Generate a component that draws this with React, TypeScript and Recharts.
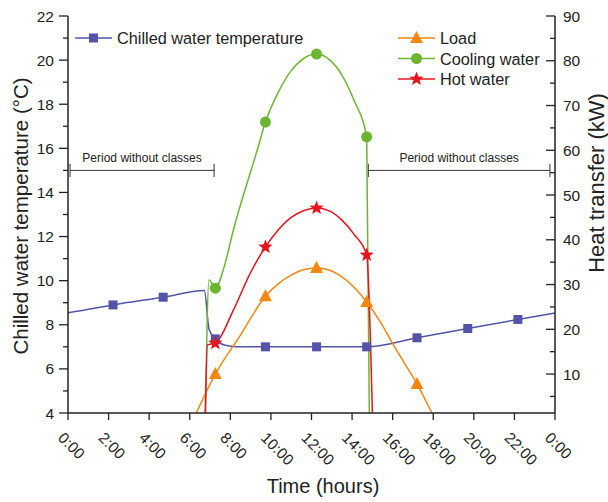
import React from 'react';
import { LineChart, Line, XAxis, YAxis, ReferenceLine, Legend } from 'recharts';

// hours of the day, shown as h:00 labels
const hourTicks = [0, 2, 4, 6, 8, 10, 12, 14, 16, 18, 20, 22, 24];
const tempTicks = [4, 5, 6, 7, 8, 9, 10, 11, 12, 13, 14, 15, 16, 17, 18, 19, 20, 21, 22];
const heatTicks = [5, 10, 15, 20, 25, 30, 35, 40, 45, 50, 55, 60, 65, 70, 75, 80, 85, 90];

// hours that carry a symbol on each curve
const markerHours = [2.22, 4.69, 7.26, 9.73, 12.25, 14.72, 17.2, 19.7, 22.17];

const chilledHours = [0, 2.22, 4.69, 6.72, 6.95, 7.26, 7.7, 8.3, 9.73, 12.25, 14.72, 17.2, 19.7, 22.17, 24];
const chilledTemp = [8.54, 8.9, 9.25, 9.55, 7.8, 7.36, 7.08, 7.0, 7.0, 7.0, 7.0, 7.41, 7.83, 8.24, 8.54];

const loadHours = [6.32, 7.26, 8.5, 9.73, 10.4, 11, 11.6, 12.25, 12.9, 13.5, 14.1, 14.72, 15.4, 16, 16.6, 17.2, 17.93];
const loadKw = [1.3, 10.0, 18.7, 27.4, 30.3, 32.1, 33.3, 33.7, 33.2, 31.7, 29.4, 26.1, 21.6, 16.8, 12.3, 7.8, 1.3];

const coolingHours = [6.77, 6.95, 7.26, 7.7, 8.15, 9.33, 9.73, 10.4, 11, 11.6, 12.25, 12.9, 13.5, 14.1, 14.72, 14.85];
const coolingKw = [1.3, 31.0, 29.2, 34.0, 42.2, 60.1, 66.3, 73.3, 77.8, 80.5, 81.5, 80.2, 76.8, 71.1, 63.0, 1.3];

const hotHours = [6.77, 6.87, 7.26, 8.15, 8.99, 9.73, 10.4, 11, 11.6, 12.25, 12.9, 13.5, 14.1, 14.72, 15.0];
const hotKw = [1.3, 16.5, 16.9, 24.3, 32.6, 38.4, 42.4, 45.0, 46.5, 47.1, 46.4, 44.4, 41.2, 36.6, 1.3];

const PURPLE = '#5353a8';
const ORANGE = '#f5860f';
const GREEN = '#6bb530';
const RED = '#e6141e';
const AXIS = '#222';
const FONT = '"Liberation Sans", Arial, sans-serif';

const toPoints = (hours: number[], values: number[]) => hours.map((h, i) => ({ h, v: values[i] }));

function Marker({ kind, cx, cy, color }: { kind: string; cx: number; cy: number; color: string }) {
  if (kind === 'square') return <rect x={cx - 4.5} y={cy - 4.5} width={9} height={9} fill={color} />;
  if (kind === 'circle') return <circle cx={cx} cy={cy} r={5.5} fill={color} />;
  if (kind === 'triangle')
    return <polygon points={`${cx},${cy - 7} ${cx - 6.5},${cy + 5} ${cx + 6.5},${cy + 5}`} fill={color} />;
  // star
  const pts: string[] = [];
  for (let i = 0; i < 10; i++) {
    const r = i % 2 === 0 ? 7.5 : 3.2;
    const a = -Math.PI / 2 + (i * Math.PI) / 5;
    pts.push(`${cx + r * Math.cos(a)},${cy + r * Math.sin(a)}`);
  }
  return <polygon points={pts.join(' ')} fill={color} />;
}

const markerDot = (kind: string, color: string) => (p: any) => {
  const key = `dot-${kind}-${p.index}`;
  if (!markerHours.includes(p.payload.h)) return <g key={key} />;
  return (
    <g key={key}>
      <Marker kind={kind} cx={p.cx} cy={p.cy} color={color} />
    </g>
  );
};

const BottomTick = (p: any) => {
  const { x, y, payload } = p;
  const h = payload.value;
  return (
    <g>
      <line x1={x} y1={y} x2={x} y2={y + 7} stroke={AXIS} strokeWidth={1.3} />
      <text
        x={x + 10.5}
        y={y + 26}
        transform={`rotate(45 ${x} ${y})`}
        fontSize={15.5}
        fontFamily={FONT}
        fill="#222"
      >
        {`${h % 24}:00`}
      </text>
    </g>
  );
};

const TopTick = (p: any) => (
  <line x1={p.x} y1={p.y} x2={p.x} y2={p.y + 5} stroke={AXIS} strokeWidth={1.3} />
);

const LeftTick = (p: any) => {
  const { x, y, payload } = p;
  const major = payload.value % 2 === 0;
  return (
    <g>
      <line x1={x - (major ? 9 : 5)} y1={y} x2={x} y2={y} stroke={AXIS} strokeWidth={1.3} />
      {major && (
        <text x={x - 14} y={y + 5.5} textAnchor="end" fontSize={15.5} fontFamily={FONT} fill="#222">
          {payload.value}
        </text>
      )}
    </g>
  );
};

const RightTick = (p: any) => {
  const { x, y, payload } = p;
  const major = payload.value % 10 === 0;
  return (
    <g>
      <line x1={x - (major ? 9 : 5)} y1={y} x2={x} y2={y} stroke={AXIS} strokeWidth={1.3} />
      {major && (
        <text x={x + 8} y={y + 5.5} textAnchor="start" fontSize={15.5} fontFamily={FONT} fill="#222">
          {payload.value}
        </text>
      )}
    </g>
  );
};

const legendLeft = [{ name: 'Chilled water temperature', kind: 'square', color: PURPLE }];
const legendRight = [
  { name: 'Load', kind: 'triangle', color: ORANGE },
  { name: 'Cooling water', kind: 'circle', color: GREEN },
  { name: 'Hot water', kind: 'star', color: RED },
];

const LegendContent = () => {
  const item = (it: any, x: number, y: number) => (
    <g key={it.name}>
      <line x1={x} y1={y} x2={x + 37} y2={y} stroke={it.color} strokeWidth={1.5} />
      <Marker kind={it.kind} cx={x + 18.5} cy={y} color={it.color} />
      <text x={x + 42} y={y + 6} fontSize={16.3} fontFamily={FONT} fill="#222">
        {it.name}
      </text>
    </g>
  );
  return (
    <svg width={608} height={100} style={{ pointerEvents: 'none' }}>
      {legendLeft.map((it) => item(it, 75, 38))}
      {legendRight.map((it, i) => item(it, 398, 38 + i * 20.5))}
    </svg>
  );
};

const periodLabel = { value: 'Period without classes', position: 'top' as const, offset: 8, fontSize: 12, fill: '#222', fontFamily: FONT };

export default function App() {
  return (
    <div style={{ position: 'absolute', left: 0, top: 0, background: '#fff' }}>
      <LineChart width={608} height={502} margin={{ top: 16, right: 0, bottom: 0, left: 0 }}>
        <XAxis
          xAxisId="bottom"
          dataKey="h"
          type="number"
          domain={[0, 24]}
          ticks={hourTicks}
          interval={0}
          height={89}
          tickSize={0}
          tickMargin={0}
          tickLine={false}
          tick={BottomTick}
          axisLine={{ stroke: AXIS, strokeWidth: 1.5 }}
          allowDataOverflow
          label={() => (
            <text x={323} y={493} textAnchor="middle" fontSize={20} fontFamily={FONT} fill="#222">
              Time (hours)
            </text>
          )}
        />
        <XAxis
          xAxisId="top"
          orientation="top"
          type="number"
          domain={[0, 24]}
          ticks={hourTicks}
          interval={0}
          height={0}
          tickSize={0}
          tickMargin={0}
          tickLine={false}
          tick={TopTick}
          axisLine={{ stroke: AXIS, strokeWidth: 1.5 }}
          allowDataOverflow
        />
        <YAxis
          yAxisId="left"
          type="number"
          domain={[4, 22]}
          ticks={tempTicks}
          interval={0}
          width={68}
          tickSize={0}
          tickMargin={0}
          tickLine={false}
          tick={LeftTick}
          axisLine={{ stroke: AXIS, strokeWidth: 1.5 }}
          allowDataOverflow
          label={() => (
            <text x={28} y={216} transform="rotate(-90 28 216)" textAnchor="middle" fontSize={20.5} fontFamily={FONT} fill="#222">
              Chilled water temperature (°C)
            </text>
          )}
        />
        <YAxis
          yAxisId="right"
          orientation="right"
          type="number"
          domain={[1.3, 90]}
          ticks={heatTicks}
          interval={0}
          width={53}
          tickSize={0}
          tickMargin={0}
          tickLine={false}
          tick={RightTick}
          axisLine={{ stroke: AXIS, strokeWidth: 1.5 }}
          allowDataOverflow
          label={() => (
            <text x={604} y={183} transform="rotate(-90 604 183)" textAnchor="middle" fontSize={22} fontFamily={FONT} fill="#222">
              Heat transfer (kW)
            </text>
          )}
        />

        <ReferenceLine xAxisId="bottom" yAxisId="left" segment={[{ x: 0.1, y: 15 }, { x: 7.2, y: 15 }]} stroke="#333" label={periodLabel} />
        <ReferenceLine xAxisId="bottom" yAxisId="left" segment={[{ x: 0.1, y: 14.7 }, { x: 0.1, y: 15.3 }]} stroke="#333" />
        <ReferenceLine xAxisId="bottom" yAxisId="left" segment={[{ x: 7.2, y: 14.7 }, { x: 7.2, y: 15.3 }]} stroke="#333" />
        <ReferenceLine xAxisId="bottom" yAxisId="left" segment={[{ x: 14.8, y: 15 }, { x: 23.75, y: 15 }]} stroke="#333" label={periodLabel} />
        <ReferenceLine xAxisId="bottom" yAxisId="left" segment={[{ x: 14.8, y: 14.7 }, { x: 14.8, y: 15.3 }]} stroke="#333" />
        <ReferenceLine xAxisId="bottom" yAxisId="left" segment={[{ x: 23.75, y: 14.7 }, { x: 23.75, y: 15.3 }]} stroke="#333" />

        <Line data={toPoints(chilledHours, chilledTemp)} dataKey="v" xAxisId="bottom" yAxisId="left" type="monotone"
          stroke={PURPLE} strokeWidth={1.5} dot={markerDot('square', PURPLE)} activeDot={false} isAnimationActive={false} />
        <Line data={toPoints(loadHours, loadKw)} dataKey="v" xAxisId="bottom" yAxisId="right" type="monotone"
          stroke={ORANGE} strokeWidth={1.5} dot={markerDot('triangle', ORANGE)} activeDot={false} isAnimationActive={false} />
        <Line data={toPoints(coolingHours, coolingKw)} dataKey="v" xAxisId="bottom" yAxisId="right" type="monotone"
          stroke={GREEN} strokeWidth={1.5} dot={markerDot('circle', GREEN)} activeDot={false} isAnimationActive={false} />
        <Line data={toPoints(hotHours, hotKw)} dataKey="v" xAxisId="bottom" yAxisId="right" type="monotone"
          stroke={RED} strokeWidth={1.5} dot={markerDot('star', RED)} activeDot={false} isAnimationActive={false} />

        <Legend
          layout="vertical"
          align="center"
          verticalAlign="middle"
          wrapperStyle={{ position: 'absolute', left: 0, top: 0, width: 608, height: 100 }}
          content={LegendContent}
        />
      </LineChart>
    </div>
  );
}
